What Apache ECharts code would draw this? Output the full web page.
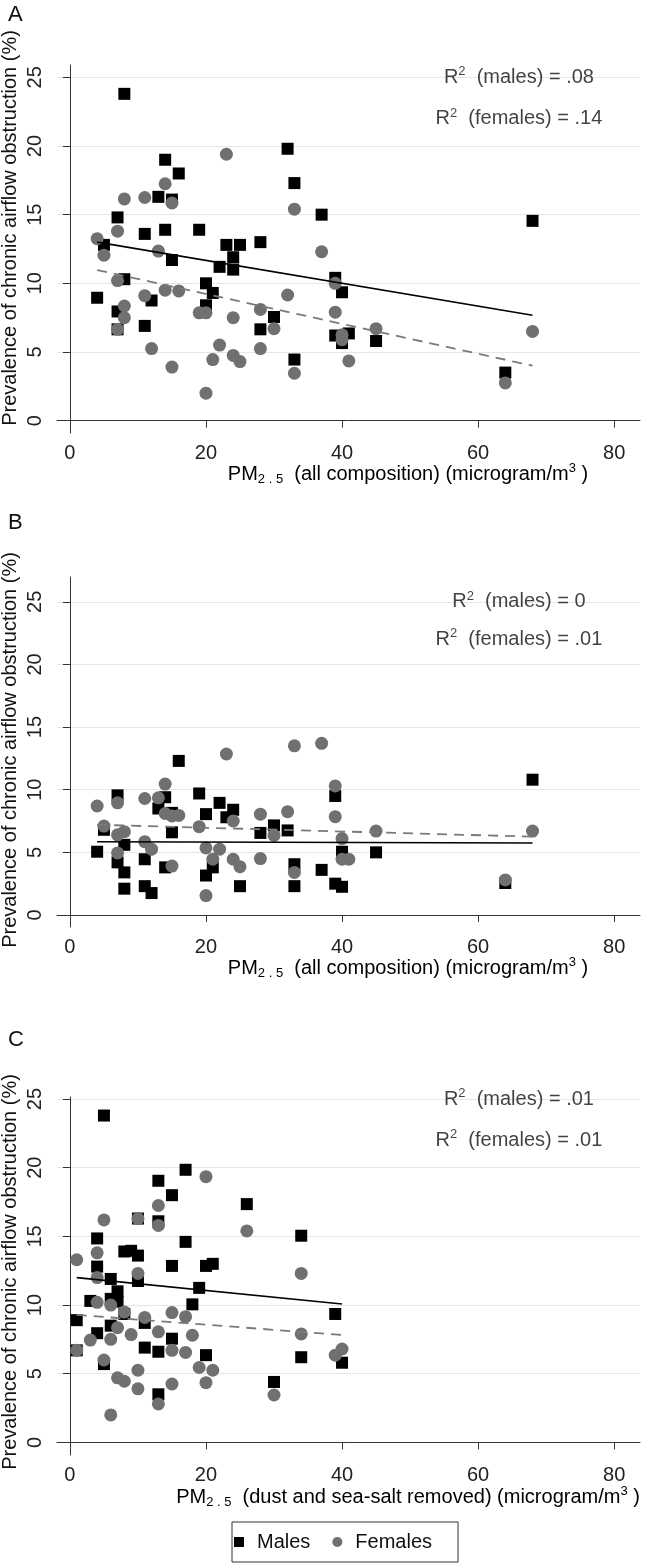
<!DOCTYPE html>
<html><head><meta charset="utf-8">
<script src="https://cdn.jsdelivr.net/npm/echarts@6/dist/echarts.min.js"></script>
<style>html,body{margin:0;padding:0;background:#fff}#c{width:655px;height:1567px}</style>
</head><body><div id="c"></div>
<script>
// ---------- data ----------
const xTicks = [0, 20, 40, 60, 80];
const yTicks = [0, 5, 10, 15, 20, 25];
const panelLetters = ['A', 'B', 'C'];
const xTitleTexts = ['all composition', 'all composition', 'dust and sea-salt removed'];
const yTitleText = 'Prevalence of chronic airflow obstruction (%)';
const legendNames = ['Males', 'Females'];
const r2Males = ['.08', '0', '.01'];
const r2Females = ['.14', '.01', '.01'];

const malesA = [[8,23.8],[14,19.0],[16,18.0],[13,16.3],[15,16.1],[7,14.8],[14,13.9],[11,13.6],[19,13.9],[23,12.8],[25,12.8],[28,13.0],[5,12.8],[15,11.7],[24,11.9],[22,11.2],[24,11.0],[8,10.3],[20,10.0],[21,9.3],[4,8.95],[12,8.75],[7,7.95],[20,8.4],[30,7.55],[11,6.9],[7,6.65],[28,6.65],[32,19.8],[33,17.3],[37,15.0],[33,4.45],[39,10.4],[40,9.35],[39,6.2],[40,5.65],[41,6.35],[45,5.8],[64,3.5],[68,14.55]];
const femalesA = [[23,19.4],[14,17.25],[8,16.15],[11,16.25],[15,15.85],[33,15.4],[7,13.8],[4,13.25],[13,12.35],[37,12.3],[5,12.05],[7,10.2],[39,10.0],[14,9.5],[16,9.45],[11,9.1],[32,9.15],[8,8.35],[19,7.85],[20,7.85],[39,7.9],[28,8.1],[8,7.5],[24,7.5],[7,6.65],[30,6.7],[40,6.25],[40,5.9],[12,5.25],[22,5.5],[28,5.25],[21,4.45],[24,4.75],[25,4.3],[15,3.9],[33,3.45],[20,2.0],[41,4.35],[45,6.7],[64,2.75],[68,6.5]];
const fitMalesA = [[4,13.0],[68,7.67]];
const fitFemalesA = [[4,10.97],[68,4.0]];

const malesB = [[16,12.3],[7,9.55],[14,9.4],[19,9.7],[39,9.5],[22,8.95],[13,8.5],[24,8.4],[20,8.05],[15,8.15],[23,7.8],[30,7.15],[5,6.8],[32,6.75],[28,6.55],[15,6.6],[4,5.05],[8,5.6],[7,4.2],[11,4.45],[8,3.4],[14,3.8],[21,3.8],[20,3.15],[8,2.1],[11,2.3],[12,1.75],[25,2.3],[33,4.05],[33,2.3],[37,3.6],[39,2.5],[40,5.05],[40,2.25],[45,5.0],[64,2.55],[68,10.8]];
const femalesB = [[23,12.85],[33,13.5],[37,13.7],[14,10.45],[39,10.3],[4,8.7],[7,8.95],[11,9.3],[13,9.35],[14,8.1],[15,7.9],[16,7.95],[28,8.05],[32,8.25],[39,7.85],[5,7.1],[19,7.05],[24,7.5],[8,6.65],[7,6.4],[30,6.35],[11,5.85],[40,6.1],[12,5.25],[7,4.95],[15,3.9],[20,5.35],[22,5.25],[21,4.45],[24,4.45],[25,3.85],[28,4.5],[33,3.4],[20,1.55],[40,4.45],[41,4.45],[45,6.7],[64,2.8],[68,6.7]];
const fitMalesB = [[4,5.85],[68,5.75]];
const fitFemalesB = [[4,7.2],[68,6.25]];

const malesC = [[5,23.8],[17,19.85],[13,19.05],[15,18.0],[26,17.35],[10,16.3],[13,16.1],[4,14.85],[17,14.6],[8,13.9],[9,13.95],[10,13.6],[15,12.85],[20,12.85],[21,13.0],[4,12.8],[6,11.9],[10,11.75],[19,11.25],[7,11.0],[3,10.3],[6,10.45],[7,10.25],[18,10.05],[1,8.9],[8,9.35],[11,8.7],[6,8.5],[4,7.95],[15,7.55],[1,6.7],[11,6.9],[13,6.6],[20,6.35],[5,5.7],[13,3.5],[30,4.4],[34,15.05],[34,6.2],[39,9.35],[40,5.8]];
const femalesC = [[20,19.35],[13,17.25],[5,16.2],[10,16.3],[13,15.8],[26,15.4],[4,13.8],[1,13.3],[10,12.3],[34,12.3],[4,12.0],[4,10.2],[6,10.0],[8,9.5],[15,9.45],[17,9.15],[11,9.1],[7,8.35],[13,8.05],[9,7.85],[18,7.8],[34,7.9],[3,7.45],[6,7.5],[1,6.7],[15,6.7],[17,6.55],[39,6.35],[40,6.8],[5,6.0],[19,5.45],[21,5.25],[10,5.25],[7,4.7],[8,4.45],[10,3.9],[15,4.25],[20,4.35],[13,2.8],[30,3.45],[6,2.0]];
const fitMalesC = [[1,12.0],[40,10.08]];
const fitFemalesC = [[1,9.28],[40,7.82]];

// ---------- layout ----------
const FONT = '"Liberation Sans", Arial, Helvetica, sans-serif';
const panels = [
  { males: malesA, females: femalesA, fitM: fitMalesA, fitF: fitFemalesA, top: 65, height: 368, yMin: -0.9, yMax: 25.9, letterY: 4, yTitleY: 228, xTitleY: 474 },
  { males: malesB, females: femalesB, fitM: fitMalesB, fitF: fitFemalesB, top: 577, height: 350, yMin: -0.96, yMax: 26.98, letterY: 512, yTitleY: 750, xTitleY: 968 },
  { males: malesC, females: femalesC, fitM: fitMalesC, fitF: fitFemalesC, top: 1097, height: 358, yMin: -0.92, yMax: 25.15, letterY: 1029, yTitleY: 1272, xTitleY: 1497 }
];
const textPos = [[66, 25], [66, 22]];

const grids = [], xAxes = [], yAxes = [], series = [], graphics = [];
const axisCommon = {
  axisLine: { show: true, lineStyle: { color: '#333', width: 1 } },
  axisTick: { show: true, length: 7, lineStyle: { color: '#333' } },
  axisLabel: { color: '#222', fontSize: 20, fontFamily: FONT }
};
const rich = {
  r: { fontSize: 20, lineHeight: 24, fontFamily: FONT, color: '#111' },
  s: { fontSize: 13, lineHeight: 14, fontFamily: FONT, color: '#111', verticalAlign: 'top' },
  b: { fontSize: 13, lineHeight: 14, fontFamily: FONT, color: '#111', verticalAlign: 'bottom' }
};

panels.forEach((p, i) => {
  grids.push({ left: 57, right: 15, top: p.top, height: p.height });
  xAxes.push({
    type: 'value', gridIndex: i, min: -1.9, max: 83.8,
    axisLine: axisCommon.axisLine,
    axisTick: Object.assign({ customValues: xTicks }, axisCommon.axisTick),
    axisLabel: Object.assign({ customValues: xTicks, margin: 10 }, axisCommon.axisLabel),
    splitLine: { show: false }
  });
  yAxes.push({
    type: 'value', gridIndex: i, min: p.yMin, max: p.yMax,
    axisLine: axisCommon.axisLine,
    axisTick: Object.assign({ customValues: yTicks }, axisCommon.axisTick),
    axisLabel: Object.assign({ customValues: yTicks, rotate: 90, margin: 12 }, axisCommon.axisLabel),
    splitLine: { show: true, lineStyle: { color: '#dde9f0', width: 1.2 } }
  });
  series.push({
    name: legendNames[0], type: 'scatter', xAxisIndex: i, yAxisIndex: i,
    data: p.males, symbol: 'rect', symbolSize: 12, itemStyle: { color: '#000', opacity: 1 }, z: 2
  });
  series.push({
    name: legendNames[1], type: 'scatter', xAxisIndex: i, yAxisIndex: i,
    data: p.females, symbol: 'circle', symbolSize: 13, itemStyle: { color: '#707070', opacity: 1 }, z: 3
  });
  series.push({
    name: 'fitM' + i, type: 'line', xAxisIndex: i, yAxisIndex: i, data: p.fitM,
    symbol: 'none', lineStyle: { color: '#000', width: 1.6 }, z: 4, silent: true
  });
  series.push({
    name: 'fitF' + i, type: 'line', xAxisIndex: i, yAxisIndex: i, data: p.fitF,
    symbol: 'none', lineStyle: { color: '#7a7a7a', width: 1.8, type: [10, 7] }, z: 4, silent: true
  });
  series.push({
    name: 'r2' + i, type: 'scatter', xAxisIndex: i, yAxisIndex: i, data: textPos,
    symbolSize: 1, itemStyle: { color: 'rgba(0,0,0,0)' }, z: 5, silent: true,
    label: {
      show: true, position: 'inside',
      formatter: (prm) => prm.dataIndex === 0
        ? '{r|R}{s|2}{r|  (males) = ' + r2Males[i] + '}'
        : '{r|R}{s|2}{r|  (females) = ' + r2Females[i] + '}',
      rich: rich
    }
  });
  graphics.push({
    type: 'text', x: 8, y: p.letterY,
    style: { text: panelLetters[i], font: '22px ' + FONT, fill: '#111', align: 'left', verticalAlign: 'top' }
  });
  graphics.push({
    type: 'text', x: 10, y: p.yTitleY, rotation: Math.PI / 2,
    style: { text: yTitleText, font: '20px ' + FONT, fill: '#111', align: 'center', verticalAlign: 'middle' }
  });
  graphics.push({
    type: 'text', x: 408, y: p.xTitleY,
    style: {
      text: '{r|PM}{b|2 . 5}{r|  (' + xTitleTexts[i] + ') (microgram/m}{s|3}{r| )}',
      rich: rich, align: 'center', verticalAlign: 'middle'
    }
  });
});

const chart = echarts.init(document.getElementById('c'), null, { renderer: 'canvas' });
chart.setOption({
  animation: false,
  backgroundColor: '#fff',
  grid: grids, xAxis: xAxes, yAxis: yAxes, series: series, graphic: graphics,
  legend: {
    data: [
      { name: legendNames[0], icon: 'path://M0,0H10V10H0Z', itemStyle: { color: '#000', opacity: 1 } },
      { name: legendNames[1], icon: 'circle', itemStyle: { color: '#707070', opacity: 1 } }
    ],
    left: 232, top: 1522, orient: 'horizontal',
    itemWidth: 26, itemHeight: 10, itemGap: 22,
    padding: [10, 26, 10, 2],
    borderColor: '#333', borderWidth: 1,
    textStyle: { fontSize: 20, fontFamily: FONT, color: '#111' },
    selectedMode: false
  }
});
</script>
</body></html>
